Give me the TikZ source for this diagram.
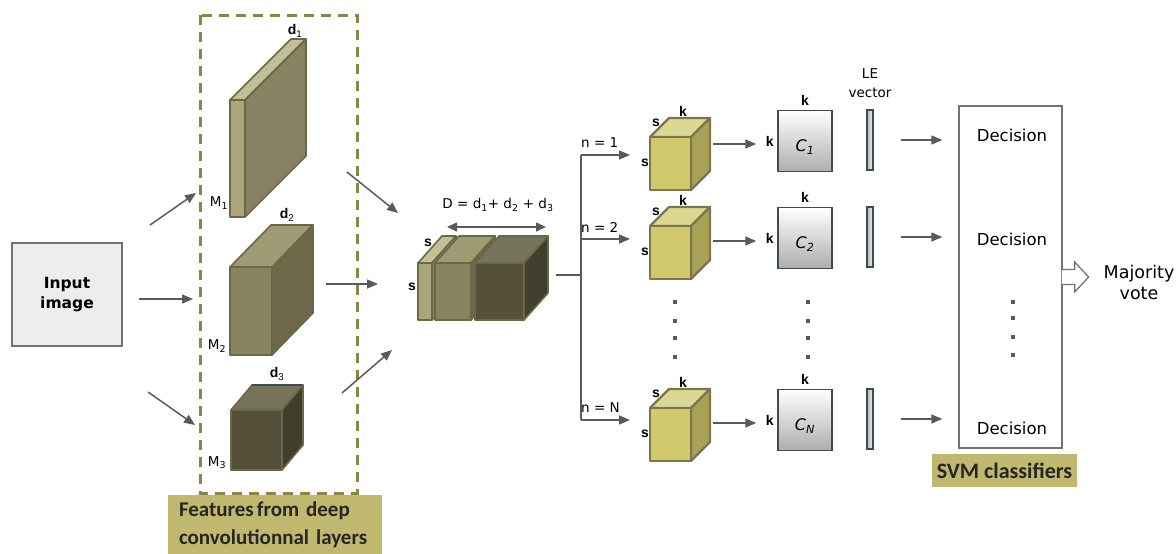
\documentclass[tikz,border=0pt]{standalone}
\usepackage{fontspec}
\setmainfont{DejaVu Sans}
\newfontfamily\labfont{Liberation Sans}
\newfontfamily\capfont{Carlito}
\usetikzlibrary{arrows.meta}
\usetikzlibrary{positioning}

\definecolor{framecol}{HTML}{8C8543}
\definecolor{capfill}{HTML}{BFB86E}
\definecolor{edgecol}{HTML}{6B6847}
\definecolor{lightfront}{HTML}{A9A77B}
\definecolor{lighttop}{HTML}{C3C096}
\definecolor{lightside}{HTML}{878263}
\definecolor{midfront}{HTML}{888461}
\definecolor{midtop}{HTML}{9D9B73}
\definecolor{midside}{HTML}{6C6849}
\definecolor{darkfront}{HTML}{545039}
\definecolor{darktop}{HTML}{76745A}
\definecolor{darkside}{HTML}{403E2C}
\definecolor{yfront}{HTML}{D0C96B}
\definecolor{ytop}{HTML}{DDD891}
\definecolor{yside}{HTML}{A9A256}
\definecolor{yedge}{HTML}{7B7550}
\definecolor{arrcol}{HTML}{5A5A5A}
\definecolor{slate}{HTML}{3D4B52}

% x, y (front top-left), width, height, dx, dy, front, top, side
\newcommand{\prism}[9]{%
  \filldraw[fill=#8] (#1,#2) -- ++(#5,-#6) -- ++(#3,0) -- ++(-#5,#6) -- cycle;
  \filldraw[fill=#9] ({#1+#3},#2) -- ++(#5,-#6) -- ++(0,#4) -- ++(-#5,#6) -- cycle;
  \filldraw[fill=#7] (#1,#2) rectangle ++(#3,#4);}

\tikzset{
  arr/.style={draw=arrcol, line width=1.5pt, -{Triangle[length=11pt,width=9pt]}},
  darr/.style={draw=arrcol, line width=1.5pt, {Triangle[length=10pt,width=9pt]}-{Triangle[length=10pt,width=9pt]}},
  lbl/.style={font=\labfont\fontsize{14}{14}\selectfont\bfseries, inner sep=0pt},
  txt/.style={font=\fontsize{16.5}{20}\selectfont, inner sep=0pt, align=center},
  small/.style={font=\fontsize{13.5}{19}\selectfont, inner sep=0pt, align=center},
  cbox/.style={draw=slate, line width=1.4pt, top color=white, bottom color=black!32,
    minimum width=54pt, minimum height=61pt, inner sep=0pt},
  lebar/.style={draw=slate, line width=1.2pt, left color=black!28, right color=black!6,
    minimum width=6pt, minimum height=60pt, inner sep=0pt},
  capbox/.style={fill=capfill, font=\capfont\fontsize{21}{28}\selectfont\bfseries, text=black!85, inner sep=0pt},
  dot/.style={fill=arrcol, minimum size=4pt, inner sep=0pt}
}

\begin{document}
\begin{tikzpicture}[x=1pt, y=-1pt]
  \useasboundingbox (0,0) rectangle (1176,554);

  \node[draw=black!55, line width=1.2pt, fill=black!7, minimum width=110pt, minimum height=103pt,
    font=\fontsize{15.5}{20}\selectfont\bfseries, align=center] (input) at (67,294.5) {Input\\image};

  \draw[framecol, line width=3pt, dash pattern=on 10pt off 7pt] (200,15) rectangle (357,493);
  \node[capbox, minimum width=214pt, minimum height=59pt, text width=192pt, align=left, inner xsep=11pt]
    (feat) at (275,524.5) {Features\hspace{0.15em}from deep\\convolutionnal layers};

  \begin{scope}[draw=edgecol, line width=1.6pt, line join=round]
    \prism{230}{100}{15}{117}{61}{61}{lightfront}{lighttop}{lightside}
    \prism{230}{267}{42}{88}{41}{42}{midfront}{midtop}{midside}
    \prism{231}{410}{51}{60}{21}{25}{darkfront}{darktop}{darkside}
    \prism{418}{263}{14}{57}{24}{27}{lightfront}{lighttop}{lightside}
    \prism{435}{263}{36}{57}{24}{27}{midfront}{midtop}{midside}
    \prism{475}{263}{49}{57}{24}{27}{darkfront}{darktop}{darkside}
  \end{scope}
  \draw[slate, line width=1.5pt] (252,385) -- (302,385);

  \node[lbl] at (295,31) {d\textsubscript{\mdseries 1}};
  \node[lbl] at (287,215) {d\textsubscript{\mdseries 2}};
  \node[lbl] at (277,374) {d\textsubscript{\mdseries 3}};
  \node[small] at (219,203) {M\textsubscript{1}};
  \node[small] at (217,346) {M\textsubscript{2}};
  \node[small] at (217,463) {M\textsubscript{3}};
  \node[lbl] at (428,243) {s};
  \node[lbl] at (412,287) {s};
  \node[small] at (498,205) {D = d\textsubscript{1}+ d\textsubscript{2} + d\textsubscript{3}};
  \draw[darr] (447,227) -- (546,227);

  \coordinate (a1) at (150,225); \coordinate (b1) at (196,193);
  \coordinate (a2) at (139,299); \coordinate (b2) at (193,299);
  \coordinate (a3) at (148,392); \coordinate (b3) at (195,425);
  \coordinate (p1) at (347,172); \coordinate (q1) at (398,213);
  \coordinate (p2) at (326,284); \coordinate (q2) at (378,284);
  \coordinate (p3) at (342,393); \coordinate (q3) at (392,350);
  \foreach \i in {1,2,3} {
    \draw[arr] (a\i) -- (b\i);
    \draw[arr] (p\i) -- (q\i);
  }

  \coordinate (cat) at (556,275);
  \coordinate (trunk) at (581,275);
  \draw[arrcol, line width=1.5pt] (cat) -- (trunk);

  \node[draw=black!55, line width=1.3pt, minimum width=103pt, minimum height=342pt, inner sep=0pt]
    (svm) at (1010.5,277) {};
  \node[capbox, font=\capfont\fontsize{22}{24}\selectfont\bfseries, minimum width=145pt, minimum height=33pt]
    (svmcap) at (1004.5,470.5) {SVM classifiers};

  \foreach \n/\y/\cy/\by/\dy in {1/137/141/155/135, 2/226/238/239/239, N/408/420/420/428} {
    \begin{scope}[draw=yedge, line width=2.2pt, line join=round]
      \prism{650}{\y}{41}{53}{19}{19}{yfront}{ytop}{yside}
    \end{scope}
    \node[lbl] at (683,\y-26) {k};
    \node[lbl] at (656,\y-14) {s};
    \node[lbl] at (645,\y+26) {s};
    \coordinate (n\n) at (630,\by);
    \draw[arr] (trunk |- n\n) -- (n\n);
    \node[small, anchor=west] at (581,\by-12) {n = \n};
    \node[cbox] (C\n) at (805,\cy) {};
    \node[font=\fontsize{16}{16}\selectfont\itshape, inner sep=0pt] at (805,\cy+6) {C\textsubscript{\n}};
    \node[lbl, above=4pt of C\n] {k};
    \node[lbl, left=3.5pt of C\n] {k};
    \coordinate (cout\n) at (713,\cy+3);
    \draw[arr, shorten >=21pt] (cout\n) -- (cout\n -| C\n.west);
    \node[lebar] (le\n) at (870,\cy-1) {};
    \draw[arr, shorten <=27pt, shorten >=16pt] (le\n.east) -- (le\n.east -| svm.west);
    \node[txt] at (1012,\dy) {Decision};
  }
  \draw[arrcol, line width=1.5pt] (trunk |- n1) -- (trunk |- nN);

  \node[small] at (870,83) {LE\\vector};

  \foreach \yy in {302,321,338,357} {
    \node[dot] at (675,\yy) {};
    \node[dot] at (808,\yy) {};
  }
  \foreach \yy in {302,318,337,355}
    \node[dot] at (1013,\yy) {};

  \draw[draw=black!55, fill=white, line width=1.3pt, line join=miter]
    ([xshift=-0.7pt]svm.east) ++(0,-7.5) -- ++(12.7,0) -- ++(0,-7.5) -- ++(14,15)
    -- ++(-14,15) -- ++(0,-7.5) -- ++(-12.7,0);
  \node[txt, font=\fontsize{17.5}{21}\selectfont] at (1139,282) {Majority\\vote};
\end{tikzpicture}
\end{document}
